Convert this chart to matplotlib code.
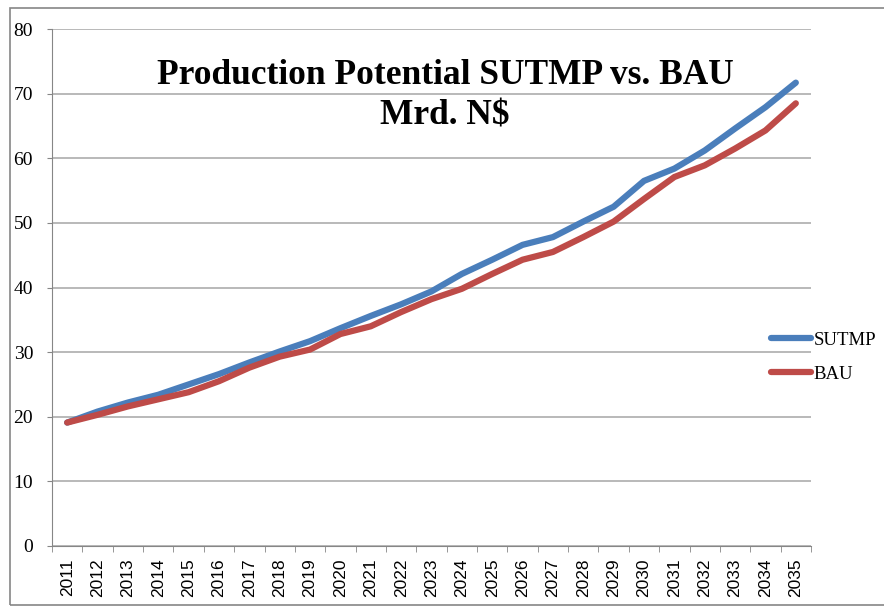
import numpy as np
import matplotlib.pyplot as plt
from matplotlib.patches import Rectangle

years = [str(y) for y in range(2011, 2036)]
sutmp = [19.1, 20.8, 22.2, 23.4, 25.0, 26.6, 28.4, 30.1, 31.7, 33.7, 35.6, 37.4, 39.4,
         42.1, 44.3, 46.6, 47.8, 50.2, 52.5, 56.5, 58.4, 61.2, 64.6, 67.9, 71.7]
bau = [19.1, 20.3, 21.6, 22.7, 23.8, 25.5, 27.6, 29.3, 30.4, 32.8, 34.0, 36.2, 38.2,
       39.8, 42.1, 44.3, 45.5, 47.8, 50.2, 53.7, 57.1, 58.9, 61.5, 64.3, 68.5]

fig = plt.figure(figsize=(8.84, 6.06), dpi=100)
ax = fig.add_axes([52/884, 60/606, (811-52)/884, (546-29)/606])

x = np.arange(len(years))
ax.plot(x, sutmp, color='#4A7EBB', lw=4.5, solid_capstyle='round', solid_joinstyle='round', label='SUTMP')
ax.plot(x, bau, color='#BE4B48', lw=4.5, solid_capstyle='round', solid_joinstyle='round', label='BAU')

ax.set_xlim(-0.5, len(years) - 0.5)
ax.set_ylim(0, 80)
ax.set_yticks(range(0, 81, 10))
ax.yaxis.grid(True, color='#a6a6a6', lw=1.1)
ax.set_axisbelow(True)

# labels centred on categories, tick marks between them
ax.set_xticks(x)
ax.set_xticklabels(years, rotation=90, family='Liberation Sans', fontsize=12.5)
ax.set_xticks(np.arange(-0.5, len(years)), minor=True)
ax.tick_params(axis='x', which='major', length=0, pad=9)
ax.tick_params(axis='x', which='minor', length=4.3, color='#868686')
ax.tick_params(axis='y', length=3.6, color='#868686', pad=10)
for lab in ax.get_yticklabels():
    lab.set_family('Liberation Serif')
    lab.set_fontsize(14)

for s in ['top', 'right']:
    ax.spines[s].set_visible(False)
for s in ['left', 'bottom']:
    ax.spines[s].set_color('#868686')

fig.text(445/884, 1 - 76/606, 'Production Potential SUTMP vs. BAU', ha='center', va='center',
         family='Liberation Serif', weight='bold', fontsize=25.5)
fig.text(445/884, 1 - 116/606, 'Mrd. N$', ha='center', va='center',
         family='Liberation Serif', weight='bold', fontsize=25.5)

fig.legend(loc='center left', bbox_to_anchor=(771/884, 1 - 357/606), frameon=False,
           prop={'family': 'Liberation Serif', 'size': 13.5}, handlelength=2.15,
           handletextpad=0.12, labelspacing=0.9, borderpad=0, borderaxespad=0)

fig.patches.append(Rectangle((10/884, 1/606), 900/884, 597/606, transform=fig.transFigure,
                             fill=False, edgecolor='#868686', lw=1.2))

fig.savefig('out.png', dpi=100)
